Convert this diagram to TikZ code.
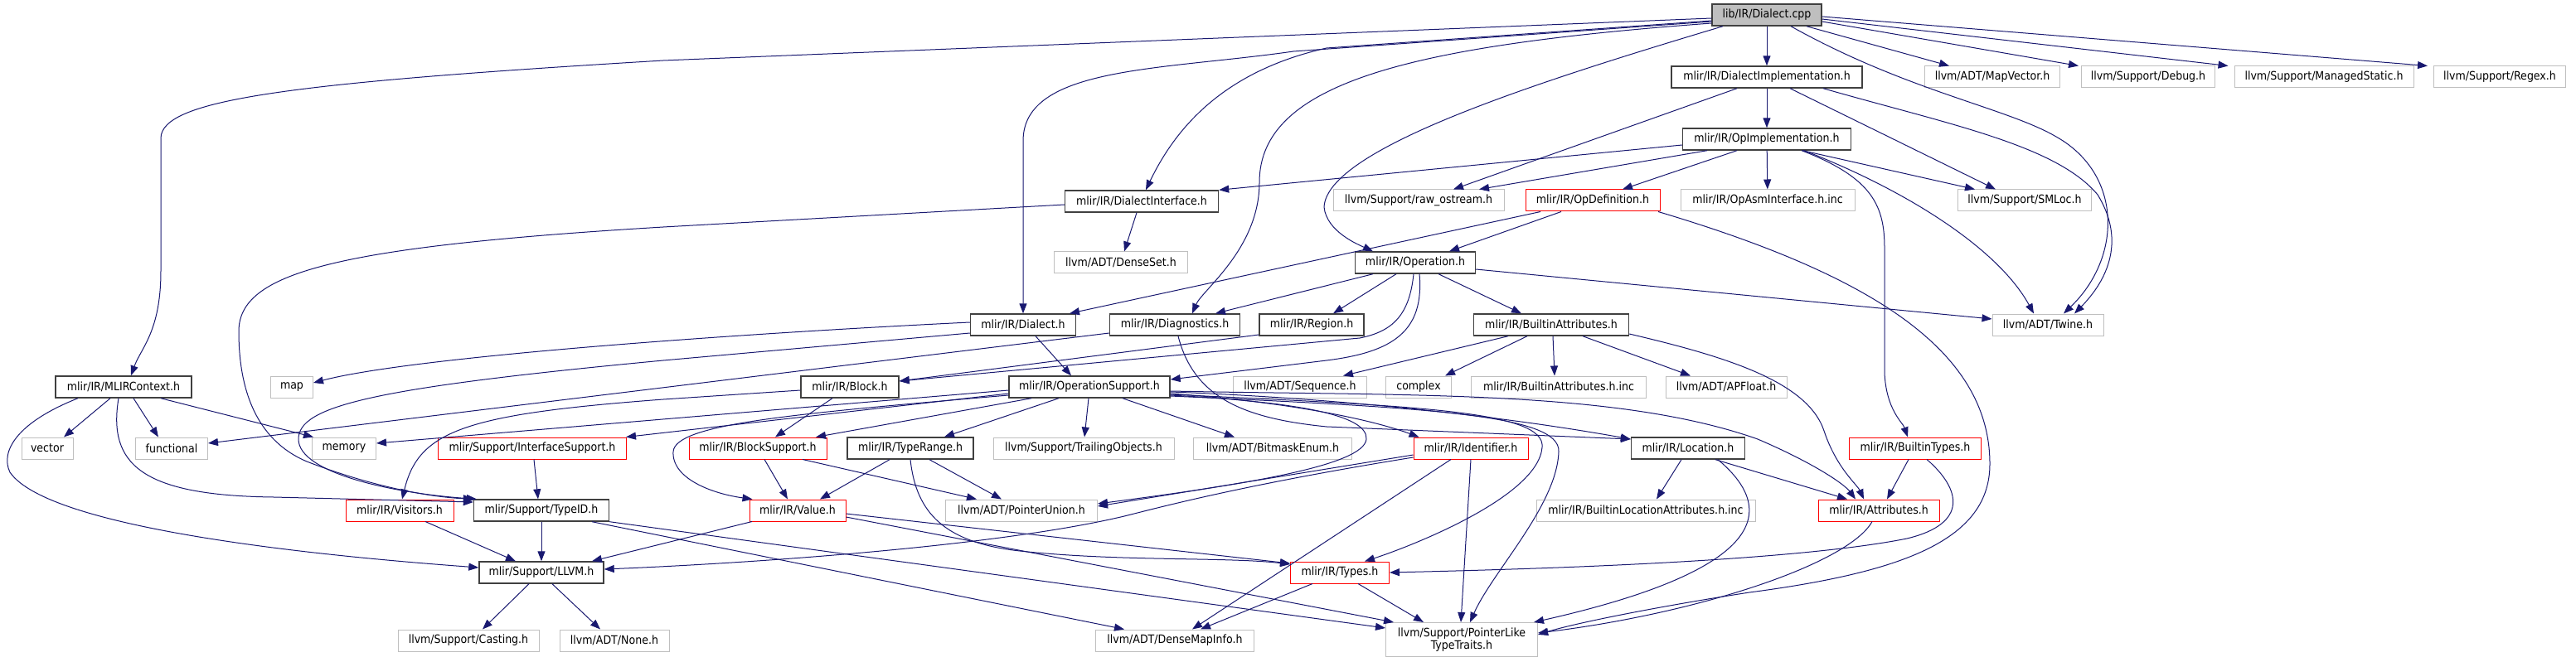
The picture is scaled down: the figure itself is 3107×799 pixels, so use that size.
\documentclass[tikz,border=0pt]{standalone}
\usepackage{fontspec}
\setmainfont{DejaVu Sans Condensed}
\usetikzlibrary{arrows.meta}
\definecolor{edgeblue}{HTML}{191970}
\definecolor{boxgray}{HTML}{BFBFBF}
\definecolor{boxred}{HTML}{FF0000}
\definecolor{boxdark}{HTML}{404040}

\begin{document}
\begin{tikzpicture}[x=1pt, y=-1pt, font=\fontsize{14}{15}\selectfont,
    file/.style={draw, rectangle, minimum height=26pt, inner sep=0pt, line width=1pt},
    inc/.style={file, draw=boxdark, line width=1.4pt},
    ext/.style={file, draw=boxgray},
    bad/.style={file, draw=boxred},
    dep/.style={-{Triangle[length=12pt,width=9pt]}, draw=edgeblue, line width=1pt}]
  \useasboundingbox (0,0) rectangle (3107,799);

  % files
  \node[inc, fill=boxgray, minimum width=132] (dcpp)       at (2131,18)  {lib/IR/Dialect.cpp};
  \node[inc, minimum width=230]               (dimpl)      at (2131,93)  {mlir/IR/DialectImplementation.h};
  \node[ext, minimum width=163]               (mapvec)     at (2403,93)  {llvm/ADT/MapVector.h};
  \node[ext, minimum width=161]               (debug)      at (2591,93)  {llvm/Support/Debug.h};
  \node[ext, minimum width=216]               (mstatic)    at (2803,93)  {llvm/Support/ManagedStatic.h};
  \node[ext, minimum width=159]               (regex)      at (3015,93)  {llvm/Support/Regex.h};
  \node[inc, minimum width=203]               (opimpl)     at (2131,168) {mlir/IR/OpImplementation.h};
  \node[inc, minimum width=185]               (dinterf)    at (1377,243) {mlir/IR/DialectInterface.h};
  \node[ext, minimum width=206]               (rawos)      at (1711,242) {llvm/Support/raw\_ostream.h};
  \node[bad, minimum width=162]               (opdef)      at (1921,242) {mlir/IR/OpDefinition.h};
  \node[ext, minimum width=210]               (opasm)      at (2132,242) {mlir/IR/OpAsmInterface.h.inc};
  \node[ext, minimum width=161]               (smloc)      at (2442,242) {llvm/Support/SMLoc.h};
  \node[ext, minimum width=161]               (denseset)   at (1352,317) {llvm/ADT/DenseSet.h};
  \node[inc, minimum width=145]               (operation)  at (1707,317) {mlir/IR/Operation.h};
  \node[inc, minimum width=127]               (dialecth)   at (1234,392) {mlir/IR/Dialect.h};
  \node[inc, minimum width=157]               (diag)       at (1417,392) {mlir/IR/Diagnostics.h};
  \node[inc, minimum width=126]               (region)     at (1582,392) {mlir/IR/Region.h};
  \node[inc, minimum width=187]               (battr)      at (1871,392) {mlir/IR/BuiltinAttributes.h};
  \node[ext, minimum width=134]               (twine)      at (2470,392) {llvm/ADT/Twine.h};
  \node[inc, minimum width=164]               (mlirctx)    at (149,467)  {mlir/IR/MLIRContext.h};
  \node[ext, minimum width=51]                (mapn)       at (352,467)  {map};
  \node[inc, minimum width=118]               (block)      at (1025,467) {mlir/IR/Block.h};
  \node[inc, minimum width=194]               (opsupp)     at (1314,467) {mlir/IR/OperationSupport.h};
  \node[ext, minimum width=161]               (sequence)   at (1568,467) {llvm/ADT/Sequence.h};
  \node[ext, minimum width=79]                (complexn)   at (1711,467) {complex};
  \node[ext, minimum width=211]               (battrinc)   at (1880,467) {mlir/IR/BuiltinAttributes.h.inc};
  \node[ext, minimum width=146]               (apfloat)    at (2082,467) {llvm/ADT/APFloat.h};
  \node[ext, minimum width=62]                (vectorn)    at (57,541)   {vector};
  \node[ext, minimum width=87]                (functionaln) at (207,541) {functional};
  \node[ext, minimum width=77]                (memoryn)    at (415,541)  {memory};
  \node[bad, minimum width=227]               (ifsupport)  at (642,541)  {mlir/Support/InterfaceSupport.h};
  \node[bad, minimum width=166]               (blocksupp)  at (914,541)  {mlir/IR/BlockSupport.h};
  \node[inc, minimum width=152]               (typerange)  at (1098,541) {mlir/IR/TypeRange.h};
  \node[ext, minimum width=218]               (trailing)   at (1307,541) {llvm/Support/TrailingObjects.h};
  \node[ext, minimum width=191]               (bitmask)    at (1535,541) {llvm/ADT/BitmaskEnum.h};
  \node[bad, minimum width=138]               (identifier) at (1774,541) {mlir/IR/Identifier.h};
  \node[inc, minimum width=137]               (location)   at (2036,541) {mlir/IR/Location.h};
  \node[bad, minimum width=159]               (btypes)     at (2310,541) {mlir/IR/BuiltinTypes.h};
  \node[bad, minimum width=130]               (visitors)   at (482,616)  {mlir/IR/Visitors.h};
  \node[inc, minimum width=163]               (typeid)     at (653,616)  {mlir/Support/TypeID.h};
  \node[bad, minimum width=116]               (value)      at (962,616)  {mlir/IR/Value.h};
  \node[ext, minimum width=183]               (ptrunion)   at (1232,616) {llvm/ADT/PointerUnion.h};
  \node[ext, minimum width=264]               (blocattr)   at (1985,616) {mlir/IR/BuiltinLocationAttributes.h.inc};
  \node[bad, minimum width=146]               (attrs)      at (2266,616) {mlir/IR/Attributes.h};
  \node[inc, minimum width=150]               (llvmh)      at (653,691)  {mlir/Support/LLVM.h};
  \node[bad, minimum width=119]               (types)      at (1616,691) {mlir/IR/Types.h};
  \node[ext, minimum width=170]               (casting)    at (565,773)  {llvm/Support/Casting.h};
  \node[ext, minimum width=132]               (nonen)      at (741,773)  {llvm/ADT/None.h};
  \node[ext, minimum width=191]               (densemap)   at (1417,773) {llvm/ADT/DenseMapInfo.h};
  \node[ext, minimum width=183, minimum height=41, align=center]
                                              (ptrlike)    at (1763,772) {llvm/Support/PointerLike\\TypeTraits.h};

  % lib/IR/Dialect.cpp
  \draw[dep] ([yshift=-4]dcpp.west) -- (800,73) .. controls (350,100) and (194,120) .. (194,167) -- (194,327) .. controls (194,400) and (170,420) .. ([xshift=9]mlirctx.north);
  \draw[dep] ([yshift=-7]dcpp.west) -- (1600,58) .. controls (1480,85) and (1420,150) .. ([xshift=5]dinterf.north);
  \draw[dep] ([yshift=-8]dcpp.west) -- (1560,62) .. controls (1400,85) and (1234,80) .. (1234,170) -- (dialecth.north);
  \draw[dep] ([yshift=-10]dcpp.west) .. controls (1700,55) and (1519,100) .. (1519,220) .. controls (1519,300) and (1450,350) .. ([xshift=21]diag.north);
  \draw[dep] ([xshift=-53]dcpp.south) .. controls (1850,100) and (1600,180) .. (1597,250) .. controls (1600,280) and (1640,296) .. ([xshift=-51]operation.north);
  \draw[dep] (dcpp) -- (dimpl);
  \draw[dep] ([xshift=48]dcpp.south) -- ([xshift=-52]mapvec.north);
  \draw[dep] ([yshift=-8]dcpp.east) -- ([xshift=-3]debug.north west);
  \draw[dep] ([yshift=-5]dcpp.east) -- ([xshift=-7]mstatic.north west);
  \draw[dep] ([yshift=-2]dcpp.east) -- ([xshift=-7]regex.north west);
  \draw[dep] ([xshift=29]dcpp.south) .. controls (2300,110) and (2420,130) .. (2480,165) .. controls (2560,210) and (2560,310) .. ([xshift=19]twine.north);

  % mlir/IR/DialectImplementation.h
  \draw[dep] (dimpl) -- (opimpl);
  \draw[dep] ([xshift=-36]dimpl.south) -- ([xshift=42]rawos.north);
  \draw[dep] ([xshift=28]dimpl.south) -- ([xshift=-35]smloc.north);
  \draw[dep] ([xshift=68]dimpl.south) .. controls (2350,150) and (2480,175) .. (2530,235) .. controls (2570,300) and (2530,350) .. ([xshift=32]twine.north);

  % mlir/IR/OpImplementation.h
  \draw[dep] ([xshift=-72]opimpl.south) -- ([xshift=73]rawos.north);
  \draw[dep] ([yshift=-7]opimpl.west) -- (dinterf.north east);
  \draw[dep] ([xshift=-36]opimpl.south) -- ([xshift=36]opdef.north);
  \draw[dep] (opimpl) -- (opasm);
  \draw[dep] ([xshift=43]opimpl.south) -- ([xshift=-60]smloc.north);
  \draw[dep] ([xshift=45]opimpl.south) .. controls (2300,230) and (2410,300) .. ([xshift=-17]twine.north);
  \draw[dep] ([xshift=42]opimpl.south) .. controls (2260,215) and (2273,250) .. (2273,300) -- (2273,450) .. controls (2275,495) and (2295,510) .. ([xshift=-9]btypes.north);

  % mlir/IR/DialectInterface.h
  \draw[dep] ([xshift=-6]dinterf.south) -- ([xshift=4]denseset.north);
  \draw[dep] ([yshift=-4]dinterf.west) -- (800,274) .. controls (400,298) and (288,330) .. (288,400) .. controls (288,500) and (330,540) .. (370,557) .. controls (450,588) and (520,600) .. (typeid.north west);

  % mlir/IR/OpDefinition.h
  \draw[dep] ([xshift=-63]opdef.south) -- ([xshift=56]dialecth.north);
  \draw[dep] ([xshift=-38]opdef.south) -- ([xshift=41]operation.north);
  \draw[dep] ([xshift=79]opdef.south) .. controls (2250,330) and (2400,420) .. (2400,560) .. controls (2400,650) and (2300,690) .. (2110,715) .. controls (2000,732) and (1900,752) .. ([yshift=6]ptrlike.east);

  % mlir/IR/Operation.h
  \draw[dep] ([xshift=-51]operation.south) -- ([xshift=49]diag.north);
  \draw[dep] ([xshift=-23]operation.south) -- ([xshift=26]region.north);
  \draw[dep] ([xshift=-2]operation.south) .. controls (1700,380) and (1680,400) .. (1640,408) -- ([yshift=7]block.east);
  \draw[dep] ([xshift=5]operation.south) .. controls (1718,400) and (1680,425) .. (1600,435) -- ([yshift=9]opsupp.east);
  \draw[dep] ([xshift=28]operation.south) -- ([xshift=-36]battr.north);
  \draw[dep] ([yshift=-8]operation.east) -- ([yshift=7]twine.west);

  % mlir/IR/Dialect.h
  \draw[dep] ([yshift=3]dialecth.west) .. controls (900,402) and (500,430) .. ([yshift=5]mapn.east);
  \draw[dep] ([yshift=-10]dialecth.west) -- (800,435) .. controls (450,468) and (360,490) .. (360,530) .. controls (360,572) and (480,596) .. ([xshift=4]typeid.north west);
  \draw[dep] ([xshift=15]dialecth.south) -- ([xshift=-22]opsupp.north);

  % mlir/IR/Diagnostics.h
  \draw[dep] ([yshift=-10]diag.west) -- ([yshift=6]functionaln.east);
  \draw[dep] ([xshift=4]diag.south) .. controls (1440,480) and (1500,505) .. (1600,515) -- ([yshift=11]location.west);

  % mlir/IR/Region.h
  \draw[dep] ([yshift=-12]region.west) -- ([yshift=7]block.east);

  % mlir/IR/BuiltinAttributes.h
  \draw[dep] ([xshift=-52]battr.south) -- ([xshift=52]sequence.north);
  \draw[dep] ([xshift=-29]battr.south) -- ([xshift=32]complexn.north);
  \draw[dep] ([xshift=2]battr.south) -- ([xshift=-5]battrinc.north);
  \draw[dep] ([xshift=38]battr.south) -- ([xshift=-43]apfloat.north);
  \draw[dep] ([yshift=-11]battr.east) .. controls (2080,430) and (2180,460) .. (2200,520) .. controls (2215,565) and (2240,585) .. ([xshift=-18]attrs.north);

  % mlir/IR/Block.h
  \draw[dep] ([xshift=-21]block.south) -- ([xshift=21]blocksupp.north);
  \draw[dep] ([yshift=-4]block.west) -- (800,482) .. controls (560,500) and (505,520) .. ([xshift=3]visitors.north);

  % mlir/IR/OperationSupport.h
  \draw[dep] ([yshift=-4]opsupp.west) -- ([yshift=6]memoryn.east);
  \draw[dep] ([yshift=-8]opsupp.west) -- ([xshift=-1]ifsupport.north east);
  \draw[dep] ([yshift=-10]opsupp.west) .. controls (950,500) and (815,512) .. (812,545) .. controls (810,578) and (860,596) .. ([xshift=4]value.north west);
  \draw[dep] ([xshift=-70]opsupp.south) -- ([xshift=70]blocksupp.north);
  \draw[dep] ([xshift=-37]opsupp.south) -- ([xshift=41]typerange.north);
  \draw[dep] ([xshift=-1]opsupp.south) -- ([xshift=1]trailing.north);
  \draw[dep] ([xshift=40]opsupp.south) -- ([xshift=-46]bitmask.north);
  \draw[dep] ([yshift=-8]opsupp.east) .. controls (1550,485) and (1650,505) .. ([xshift=7]identifier.north west);
  \draw[dep] ([yshift=-6]opsupp.east) .. controls (1600,480) and (1800,500) .. ([yshift=11]location.west);
  \draw[dep] ([yshift=-10]opsupp.east) .. controls (1560,485) and (1650,500) .. (1648,530) .. controls (1645,562) and (1500,585) .. ([yshift=8]ptrunion.east);
  \draw[dep] ([yshift=-9]opsupp.east) .. controls (1700,490) and (1865,495) .. (1860,540) .. controls (1855,600) and (1700,660) .. ([xshift=30]types.north);
  \draw[dep] ([yshift=-11]opsupp.east) .. controls (1720,492) and (1882,500) .. (1880,545) .. controls (1878,610) and (1800,690) .. ([xshift=10]ptrlike.north);
  \draw[dep] ([yshift=-5]opsupp.east) .. controls (1700,478) and (1950,470) .. (2120,530) .. controls (2190,560) and (2225,585) .. ([xshift=-28]attrs.north);

  % mlir/IR/TypeRange.h
  \draw[dep] ([xshift=-25]typerange.south) -- ([xshift=27]value.north);
  \draw[dep] ([xshift=23]typerange.south) -- ([xshift=-24]ptrunion.north);
  \draw[dep] (typerange.south) .. controls (1105,620) and (1140,655) .. (1230,665) .. controls (1350,678) and (1480,672) .. ([yshift=10]types.west);

  % mlir/IR/BlockSupport.h
  \draw[dep] ([xshift=8]blocksupp.south) -- ([xshift=-12]value.north);
  \draw[dep] ([xshift=54]blocksupp.south) -- ([xshift=-54]ptrunion.north);

  % support headers
  \draw[dep] ([xshift=2]ifsupport.south) -- ([xshift=-4]typeid.north);
  \draw[dep] ([xshift=31]visitors.south) -- ([xshift=-31]llvmh.north);
  \draw[dep] (typeid) -- (llvmh);
  \draw[dep] ([xshift=61]typeid.south) -- ([xshift=-61]densemap.north);
  \draw[dep] (typeid.south east) -- ([yshift=14]ptrlike.west);

  % mlir/IR/Value.h
  \draw[dep] ([xshift=-55]value.south) -- ([xshift=61]llvmh.north);
  \draw[dep] ([yshift=-4]value.east) -- ([yshift=11]types.west);
  \draw[dep] ([yshift=-8]value.east) -- ([xshift=10]ptrlike.north west);

  % mlir/IR/Identifier.h
  \draw[dep] ([yshift=-8]identifier.west) -- ([yshift=5]ptrunion.east);
  \draw[dep] ([yshift=-11]identifier.west) .. controls (1500,585) and (1400,612) .. (1356,623) .. controls (1200,660) and (900,680) .. ([yshift=4]llvmh.east);
  \draw[dep] ([xshift=-24]identifier.south) -- ([xshift=21]densemap.north);
  \draw[dep] (identifier.south) -- ([xshift=-1]ptrlike.north);

  % mlir/IR/Types.h
  \draw[dep] ([xshift=-33]types.south) -- ([xshift=31]densemap.north);
  \draw[dep] ([xshift=22]types.south) -- ([xshift=-46]ptrlike.north);

  % mlir/IR/Location.h
  \draw[dep] ([xshift=-8]location.south) -- ([xshift=13]blocattr.north);
  \draw[dep] ([xshift=33]location.south) -- ([xshift=-38]attrs.north);
  \draw[dep] ([xshift=36]location.south) .. controls (2150,620) and (2120,690) .. ([xshift=-5]ptrlike.north east);

  % mlir/IR/BuiltinTypes.h, mlir/IR/Attributes.h
  \draw[dep] ([xshift=-8]btypes.south) -- ([xshift=10]attrs.north);
  \draw[dep] ([xshift=14]btypes.south) .. controls (2365,590) and (2375,632) .. (2300,650) .. controls (2150,680) and (1800,688) .. (types.east);
  \draw[dep] ([xshift=-8]attrs.south) .. controls (2230,680) and (2050,740) .. ([yshift=8]ptrlike.east);

  % mlir/Support/LLVM.h
  \draw[dep] ([xshift=-15]llvmh.south) -- ([xshift=17]casting.north);
  \draw[dep] ([xshift=13]llvmh.south) -- ([xshift=-17]nonen.north);

  % mlir/IR/MLIRContext.h
  \draw[dep] ([xshift=-55]mlirctx.south) .. controls (20,510) and (0,545) .. (12,570) .. controls (60,640) and (400,672) .. ([yshift=6]llvmh.west);
  \draw[dep] ([xshift=-16]mlirctx.south) -- ([xshift=20]vectorn.north);
  \draw[dep] ([xshift=-6]mlirctx.south) .. controls (130,560) and (170,598) .. (330,600) -- ([yshift=10]typeid.west);
  \draw[dep] ([xshift=12]mlirctx.south) -- ([xshift=-16]functionaln.north);
  \draw[dep] ([xshift=45]mlirctx.south) -- ([xshift=-37]memoryn.north);
\end{tikzpicture}
\end{document}
